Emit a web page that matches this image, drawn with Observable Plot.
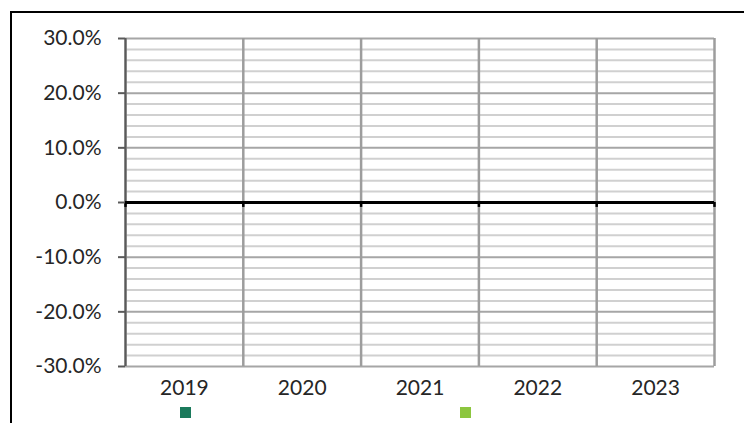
<!DOCTYPE html>
<html>
<head>
<meta charset="utf-8">
<script src="https://cdn.jsdelivr.net/npm/d3@7"></script>
<script src="https://cdn.jsdelivr.net/npm/@observablehq/plot@0.6"></script>
<style>
  html, body { margin: 0; padding: 0; background: #fff; overflow: hidden; }
  #wrap { position: relative; width: 744px; height: 423px; overflow: hidden; font-family: Lato, "Open Sans", sans-serif; }
  #frame { position: absolute; left: 10px; top: 11px; width: 900px; height: 600px; border-top: 2px solid #000; border-left: 2px solid #000; }
  #chart { position: absolute; left: 0; top: 0; }
  #legend { position: absolute; left: 0; top: 400px; width: 744px; height: 23px; }
  .sw { position: absolute; top: 7px; width: 11px; height: 11px; }
</style>
</head>
<body>
<div id="wrap">
  <div id="frame"></div>
  <div id="chart"></div>
  <div id="legend"></div>
</div>
<script>
const years = ["2019", "2020", "2021", "2022", "2023"];
const seriesA = [null, null, null, null, null];
const seriesB = [null, null, null, null, null];
const seriesNames = ["Series A", "Series B"];
const seriesColors = ["#1b7a5c", "#8cc63f"];
const majorTicks = [-0.3, -0.2, -0.1, 0, 0.1, 0.2, 0.3];
const minorTicks = [-0.28,-0.26,-0.24,-0.22,-0.18,-0.16,-0.14,-0.12,-0.08,-0.06,-0.04,-0.02,
                    0.02,0.04,0.06,0.08,0.12,0.14,0.16,0.18,0.22,0.24,0.26,0.28];

const n = years.length;
const bounds = d3.range(n + 1);
const bars = [];
years.forEach((y, i) => {
  bars.push({i, s: 0, v: seriesA[i]});
  bars.push({i, s: 1, v: seriesB[i]});
});
const pct = v => d3.format(".1%")(v).replace("\u2212", "-");

const chart = Plot.plot({
  width: 744,
  height: 400,
  marginLeft: 125,
  marginRight: 30,
  marginTop: 38,
  marginBottom: 34,
  style: {fontFamily: "Lato, 'Open Sans', sans-serif", fontSize: "21px", color: "#262626", background: "transparent"},
  x: {type: "linear", domain: [0, n], label: null},
  y: {domain: [-0.3, 0.3], label: null},
  marks: [
    Plot.ruleY(minorTicks, {stroke: "#d0d0d0", strokeWidth: 2}),
    Plot.ruleY(majorTicks, {stroke: "#a6a6a6", strokeWidth: 2}),
    Plot.ruleX(bounds, {y1: -0.3, y2: 0.3, stroke: "#9d9d9d", strokeWidth: 2.5}),
    Plot.rectY(bars.filter(d => d.v != null), {
      x1: d => d.i + 0.1 + d.s * 0.4, x2: d => d.i + 0.5 + d.s * 0.4,
      y1: 0, y2: "v", fill: d => seriesColors[d.s]
    }),
    Plot.ruleX([0], {y1: -0.3, y2: 0.3, stroke: "#5a5a5a", strokeWidth: 2}),
    Plot.ruleX(bounds, {y1: 0, y2: -0.009, stroke: "#000", strokeWidth: 2.5}),
    Plot.ruleY([0], {x1: 0, x2: n, stroke: "#000", strokeWidth: 3}),
    Plot.axisY({ticks: majorTicks, tickFormat: pct, tickSize: 7, tickPadding: 17, stroke: "#5a5a5a", strokeWidth: 2, fill: "#262626", fontSize: 21, label: null}),
    Plot.axisX({ticks: years.map((_, i) => i + 0.5), tickFormat: v => years[Math.floor(v)], tickSize: 0, tickPadding: 14, fill: "#262626", fontSize: 21, label: null})
  ]
});
document.getElementById("chart").appendChild(chart);

const legend = document.getElementById("legend");
const legendX = [180, 460];
seriesNames.forEach((name, i) => {
  const sw = document.createElement("div");
  sw.className = "sw";
  sw.title = name;
  sw.style.left = legendX[i] + "px";
  sw.style.background = seriesColors[i];
  legend.appendChild(sw);
});
</script>
</body>
</html>
